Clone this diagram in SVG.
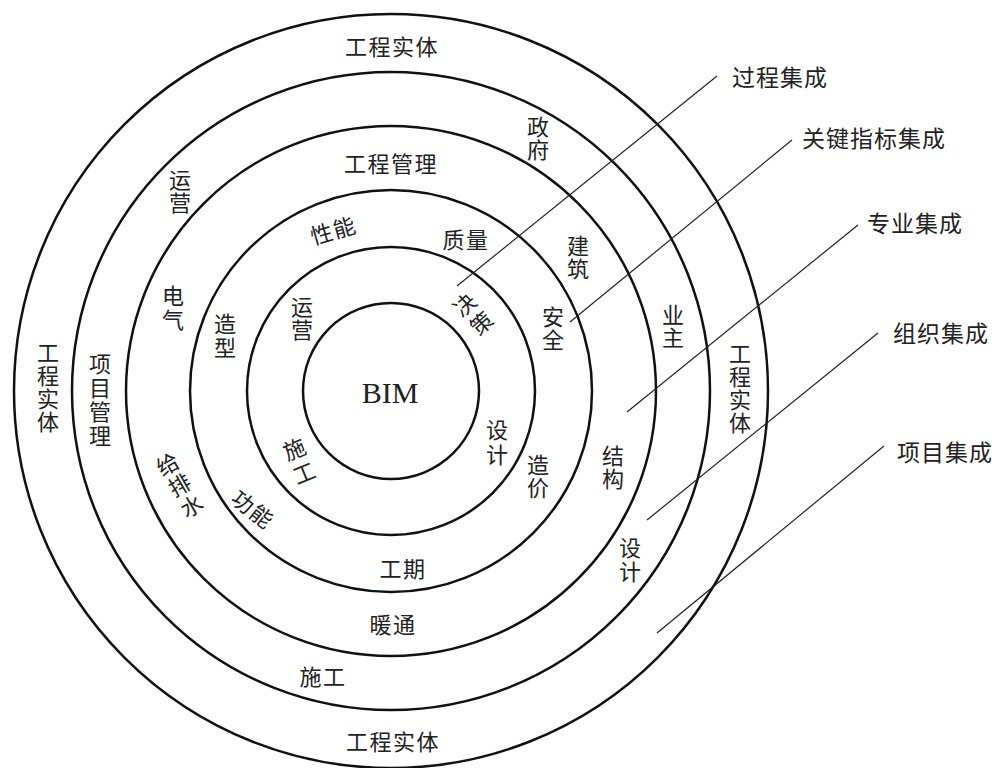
<svg xmlns="http://www.w3.org/2000/svg" width="995" height="768" viewBox="0 0 995 768">
<style>
.c{fill:none;stroke:#111;stroke-width:2.5}
.l{stroke:#222;stroke-width:1.2;fill:none}
.t{font-family:"Noto Sans CJK SC","Noto Sans",sans-serif;font-size:22px;fill:#222;text-anchor:middle;dominant-baseline:central}
.h{letter-spacing:1.5px}
.v{writing-mode:vertical-rl;text-orientation:upright;letter-spacing:1px}
.k{font-family:"Noto Sans CJK SC","Noto Sans",sans-serif;font-size:23px;fill:#222;text-anchor:start;dominant-baseline:central;letter-spacing:1px}
.b{font-family:"Liberation Serif","Times New Roman",serif;font-size:30px;fill:#222;text-anchor:middle}
</style>
<rect width="995" height="768" fill="#fff"/>
<g id="rings">
<circle class="c" cx="391" cy="391" r="377"/>
<circle class="c" cx="391" cy="391" r="319"/>
<circle class="c" cx="391" cy="391" r="265"/>
<circle class="c" cx="391" cy="391" r="201"/>
<circle class="c" cx="391" cy="391" r="144"/>
<circle class="c" cx="391" cy="391" r="88"/>
</g>
<g id="connectors">
<line class="l" x1="457" y1="286" x2="717" y2="76"/>
<line class="l" x1="570" y1="322" x2="792" y2="140"/>
<line class="l" x1="627" y1="412" x2="858" y2="225"/>
<line class="l" x1="647" y1="520" x2="878" y2="333"/>
<line class="l" x1="657" y1="633" x2="884" y2="446"/>
</g>
<g id="bim"><text class="b" x="390" y="403">BIM</text></g>
<g id="ring6">
<g id="gcst-top"><text class="t h" x="392" y="45">工程实体</text></g>
<g id="gcst-bottom"><text class="t h" x="393" y="740">工程实体</text></g>
<g id="gcst-left"><text class="t v" x="48" y="388">工程实体</text></g>
<g id="gcst-right"><text class="t v" x="740" y="389">工程实体</text></g>
</g>
<g id="ring5">
<g id="xmgl"><text class="t v" x="100" y="401" style="letter-spacing:2px">项目管理</text></g>
<g id="yy5"><text class="t v" x="180" y="192">运营</text></g>
<g id="zf"><text class="t v" x="538" y="139">政府</text></g>
<g id="yz"><text class="t v" x="673" y="327">业主</text></g>
<g id="sj5"><text class="t v" x="630" y="561" style="letter-spacing:2px">设计</text></g>
<g id="sg5"><text class="t h" x="323" y="675">施工</text></g>
</g>
<g id="ring4">
<g id="gcgl"><text class="t h" x="391" y="162">工程管理</text></g>
<g id="dq"><text class="t v" x="173" y="309" style="letter-spacing:2px">电气</text></g>
<g id="gps" transform="translate(180,486) rotate(-30)"><text class="t v" x="0" y="0" style="letter-spacing:2px">给排水</text></g>
<g id="jz"><text class="t v" x="578" y="258">建筑</text></g>
<g id="jg"><text class="t v" x="613" y="468">结构</text></g>
<g id="nt"><text class="t h" x="393" y="623">暖通</text></g>
</g>
<g id="ring3">
<g id="xn" transform="translate(333,229) rotate(-16)"><text class="t h" x="0" y="0">性能</text></g>
<g id="zl"><text class="t h" x="466" y="238">质量</text></g>
<g id="zx"><text class="t v" x="225" y="337" style="letter-spacing:2px">造型</text></g>
<g id="aq"><text class="t v" x="553" y="329">安全</text></g>
<g id="gn" transform="translate(254,508) rotate(38)"><text class="t h" x="0" y="0">功能</text></g>
<g id="zj"><text class="t v" x="538" y="477">造价</text></g>
<g id="gq"><text class="t h" x="403" y="567">工期</text></g>
</g>
<g id="ring2">
<g id="yy2"><text class="t v" x="302" y="319">运营</text></g>
<g id="jc" transform="translate(474,315) rotate(-42)"><text class="t v" x="0" y="0" style="letter-spacing:3px">决策</text></g>
<g id="sg2" transform="translate(300,463) rotate(-22)"><text class="t v" x="0" y="0" style="letter-spacing:4px">施工</text></g>
<g id="sj2"><text class="t v" x="497" y="444" style="letter-spacing:3px">设计</text></g>
</g>
<g id="legend">
<g id="gcjc"><text class="k" x="732" y="76">过程集成</text></g>
<g id="gjzbjc"><text class="k" x="802" y="137">关键指标集成</text></g>
<g id="zyjc"><text class="k" x="867" y="222">专业集成</text></g>
<g id="zzjc"><text class="k" x="893" y="332">组织集成</text></g>
<g id="xmjc"><text class="k" x="897" y="451">项目集成</text></g>
</g>
</svg>
